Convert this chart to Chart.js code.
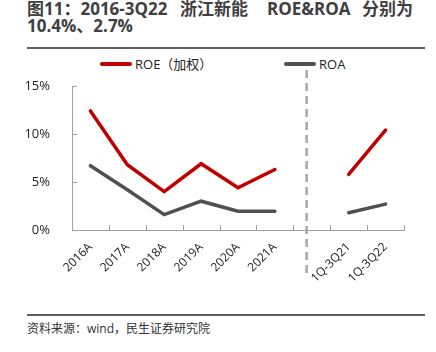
<!DOCTYPE html>
<html>
<head>
<meta charset="utf-8">
<script src="https://cdn.jsdelivr.net/npm/chart.js@4.4.0/dist/chart.umd.min.js"></script>
<style>
    body { margin: 0; background: #fff; font-family: "Open Sans", "Noto Sans CJK SC", sans-serif; }
    #wrap { position: relative; width: 436px; height: 352px; overflow: hidden; }
    .title { position: absolute; left: 27px; top: 0px; font-size: 17px; font-weight: bold; color: #404040; line-height: 17px; white-space: nowrap; }
    .title span { position: absolute; top: 0; }
    .rule { position: absolute; left: 27px; width: 398px; height: 2px; background: #606060; }
    .src { position: absolute; left: 27px; top: 319px; font-size: 12px; color: #333; }
    .lg { position: absolute; top: 55px; font-size: 13px; color: #222; line-height: 18px; }
    .lg i { display: inline-block; width: 32px; height: 4px; vertical-align: middle; margin-right: 3px; margin-top: -3px; border-radius: 2px; }
    canvas { position: absolute; left: 0; top: 50px; }
</style>
</head>
<body>
<div id="wrap">
    <div class="title">
        <span style="left:0">图11：2016-3Q22</span>
        <span style="left:153px">浙江新能</span>
        <span style="left:240px">ROE&amp;ROA</span>
        <span style="left:335px">分别为</span>
        <span style="left:0; top:17px">10.4%、2.7%</span>
    </div>
    <div class="rule" style="top:47px"></div>
    <div class="lg" style="left:100px"><i style="background:#C00000"></i>ROE（加权）</div>
    <div class="lg" style="left:284px"><i style="background:#505050"></i>ROA</div>
    <canvas id="roeChart" width="436" height="260"></canvas>
    <div class="rule" style="top:314px"></div>
    <div class="src">资料来源：wind，民生证券研究院</div>
</div>
<script>
const categories = ['2016A', '2017A', '2018A', '2019A', '2020A', '2021A', '', '1Q-3Q21', '1Q-3Q22'];
const roeValues = [12.4, 6.8, 4.0, 6.9, 4.4, 6.3, null, 5.8, 10.4];
const roaValues = [6.7, 4.2, 1.6, 3.0, 1.95, 1.95, null, 1.8, 2.7];
const yTicks = [0, 5, 10, 15];

// 虚线分隔 + 向内的刻度线
const extras = {
    id: 'extras',
    afterDraw(chart) {
        const ctx = chart.ctx;
        const x = chart.scales.x;
        const y = chart.scales.y;
        const area = chart.chartArea;
        ctx.save();
        ctx.strokeStyle = '#A0A0A0';
        ctx.lineWidth = 1;
        for (let i = 0; i < categories.length; i++) {
            const px = Math.round(x.getPixelForValue(i + 0.5)) + 0.5;
            ctx.beginPath();
            ctx.moveTo(px, area.bottom);
            ctx.lineTo(px, area.bottom - 5);
            ctx.stroke();
        }
        yTicks.slice(1).forEach(v => {
            const py = Math.round(y.getPixelForValue(v)) + 0.5;
            ctx.beginPath();
            ctx.moveTo(area.left, py);
            ctx.lineTo(area.left + 5, py);
            ctx.stroke();
        });
        const dx = x.getPixelForValue(5.86);
        ctx.strokeStyle = '#A6A6A6';
        ctx.lineWidth = 2.5;
        ctx.setLineDash([8, 5]);
        ctx.beginPath();
        ctx.moveTo(dx, 20);
        ctx.lineTo(dx, 223);
        ctx.stroke();
        ctx.restore();
    }
};

new Chart(document.getElementById('roeChart').getContext('2d'), {
    type: 'line',
    data: {
        labels: categories,
        datasets: [
            {
                label: 'ROE（加权）',
                data: roeValues,
                borderColor: '#C00000',
                borderWidth: 3.5,
                pointRadius: 0,
                borderCapStyle: 'round',
                tension: 0,
                spanGaps: false
            },
            {
                label: 'ROA',
                data: roaValues,
                borderColor: '#505050',
                borderWidth: 3.5,
                pointRadius: 0,
                borderCapStyle: 'round',
                tension: 0,
                spanGaps: false
            }
        ]
    },
    options: {
        responsive: false,
        animation: false,
        layout: { padding: { top: 36, right: 32, left: 0, bottom: 0 } },
        scales: {
            x: {
                offset: true,
                grid: { display: false },
                border: { display: true, color: '#A0A0A0', width: 1 },
                ticks: {
                    autoSkip: false,
                    maxRotation: 45,
                    minRotation: 45,
                    padding: 2,
                    color: '#222',
                    font: { family: '"Open Sans", "Noto Sans CJK SC"', size: 12 }
                },
                afterFit(scale) { scale.height = 80; }
            },
            y: {
                min: 0,
                max: 15,
                grid: { display: false },
                border: { display: true, color: '#A0A0A0', width: 1 },
                ticks: {
                    stepSize: 5,
                    padding: 14,
                    color: '#222',
                    font: { family: '"Open Sans", "Noto Sans CJK SC"', size: 13 },
                    callback: function(value) { return value + '%'; }
                },
                afterFit(scale) { scale.width = 72; }
            }
        },
        plugins: {
            legend: { display: false },
            tooltip: { enabled: false }
        }
    },
    plugins: [extras]
});
</script>
</body>
</html>
